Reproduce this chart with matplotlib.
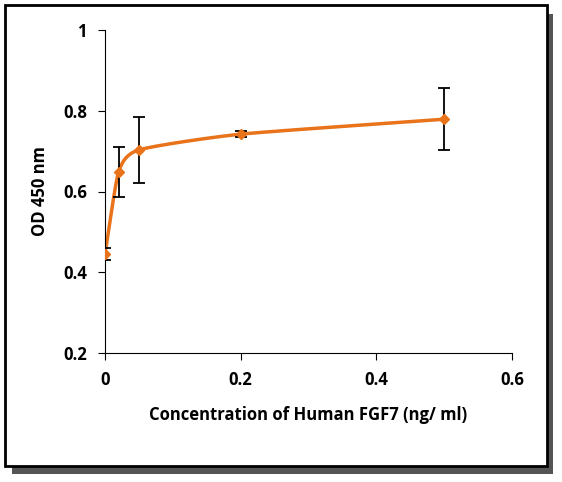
import numpy as np
import matplotlib
matplotlib.use("Agg")
import matplotlib.pyplot as plt
from matplotlib.patches import Rectangle

conc = [0, 0.02, 0.05, 0.2, 0.5]
od = [0.445, 0.648, 0.703, 0.742, 0.779]
err = [0.015, 0.062, 0.082, 0.008, 0.077]
xticks = [0, 0.2, 0.4, 0.6]
yticks = [0.2, 0.4, 0.6, 0.8, 1]

plt.rcParams['font.family'] = ['Open Sans', 'DejaVu Sans']
fig = plt.figure(figsize=(5.62, 4.82), dpi=100)
# frame with shadow
fig.patches.append(Rectangle((12/562, 1-474/482), 541/562, 460/482, transform=fig.transFigure,
                             facecolor='#555555', edgecolor='none', zorder=-2))
fig.patches.append(Rectangle((5/562, 1-466/482), 542/562, 461/482, transform=fig.transFigure,
                             facecolor='white', edgecolor='black', lw=2, zorder=-1))

ax = fig.add_axes([105/562, 1-353/482, 407/562, 323/482])
ax.set_zorder(1)
ax.set_facecolor('none')

def smooth(x, y, n=60):
    P = np.column_stack([x, y]).astype(float)
    P = np.vstack([P[0] - (P[1] - P[0]), P, P[-1] + (P[-1] - P[-2])])
    out = []
    for i in range(1, len(P) - 2):
        p0, p1, p2, p3 = P[i-1], P[i], P[i+1], P[i+2]
        t = np.linspace(0, 1, n)[:, None]
        m1 = (p2 - p0) / 2 * 0.6
        m2 = (p3 - p1) / 2 * 0.6
        h00 = 2*t**3 - 3*t**2 + 1; h10 = t**3 - 2*t**2 + t
        h01 = -2*t**3 + 3*t**2; h11 = t**3 - t**2
        out.append(h00*p1 + h10*m1 + h01*p2 + h11*m2)
    return np.vstack(out)

c = smooth(conc, od)
ax.plot(c[:, 0], c[:, 1], color='#E8731A', lw=2.5, zorder=2)
ax.errorbar(conc, od, yerr=err, fmt='D', color='#E8731A', ms=5, ecolor='black',
            elinewidth=1.3, capsize=4, capthick=1.3, zorder=3)

ax.set_xlim(0, 0.6)
ax.set_ylim(0.2, 1)
ax.set_xticks(xticks)
ax.set_xticklabels(['0', '0.2', '0.4', '0.6'])
ax.set_yticks(yticks)
ax.set_yticklabels(['0.2', '0.4', '0.6', '0.8', '1'])
for s in ['top', 'right']:
    ax.spines[s].set_visible(False)
ax.tick_params(direction='out', length=5, labelsize=12, pad=8)
for l in ax.get_xticklabels() + ax.get_yticklabels():
    l.set_fontweight('bold')
ax.set_xlabel('Concentration of Human FGF7 (ng/ ml)', fontsize=12, fontweight='bold', labelpad=12)
ax.set_ylabel('OD 450 nm', fontsize=12, fontweight='bold', labelpad=10)

fig.savefig('out.png', dpi=100)
